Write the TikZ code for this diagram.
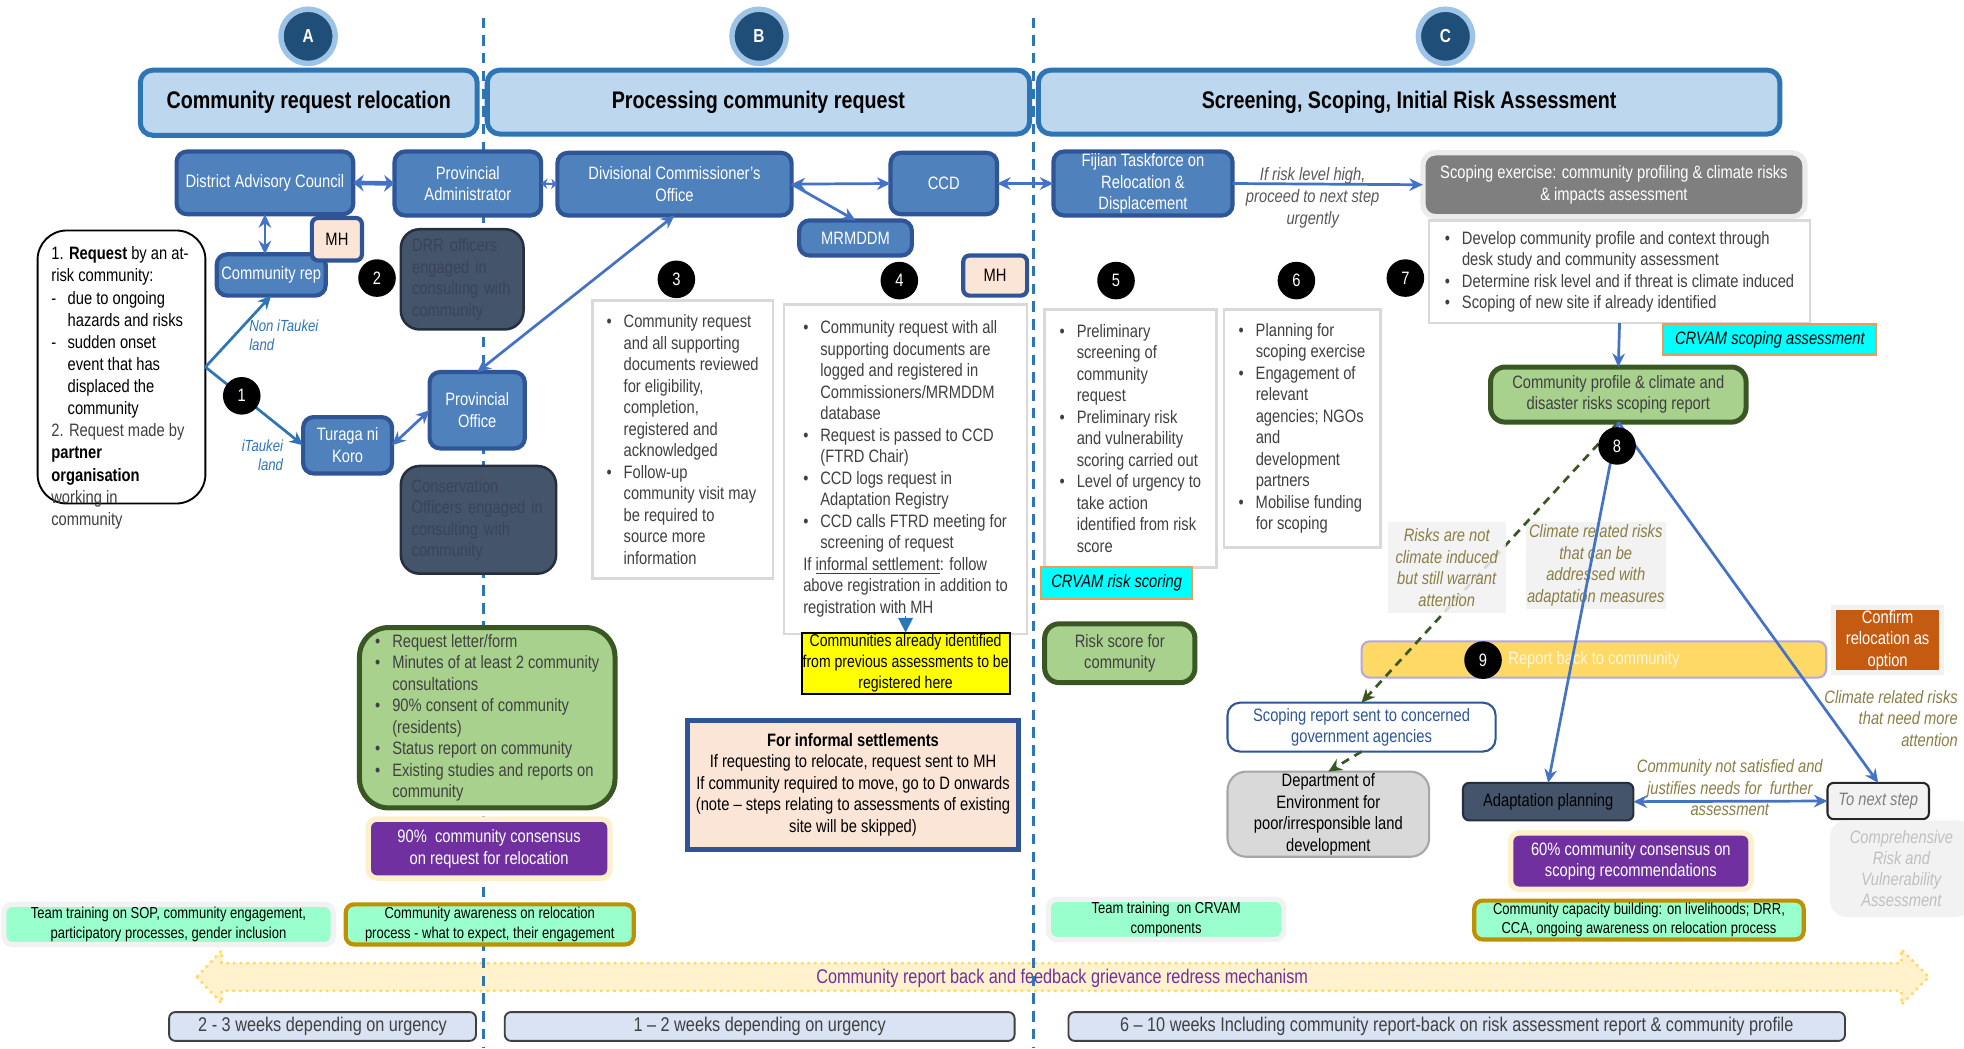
\documentclass[tikz,border=0pt]{standalone}
\usepackage{fontspec}
\setmainfont{Liberation Sans}[FakeStretch=0.82]
\usetikzlibrary{arrows.meta}
\definecolor{hdrfill}{HTML}{BDD7EE}
\definecolor{hdrdraw}{HTML}{2E75B6}
\definecolor{bluefill}{HTML}{4F81BD}
\definecolor{bluedraw}{HTML}{2F5597}
\definecolor{mhfill}{HTML}{FBE5D6}
\definecolor{darkfill}{HTML}{44546A}
\definecolor{darkdraw}{HTML}{262F3D}
\definecolor{darktext}{HTML}{394457}
\definecolor{letfill}{HTML}{1F4E79}
\definecolor{letring}{HTML}{9DC3E6}
\definecolor{boxgray}{HTML}{D9D9D9}
\definecolor{txtgray}{HTML}{404040}
\definecolor{grnfill}{HTML}{A9D18E}
\definecolor{grndraw}{HTML}{385723}
\definecolor{purple1}{HTML}{7030A0}
\definecolor{peach2}{HTML}{FFF0CC}
\definecolor{mint1}{HTML}{99FFCC}
\definecolor{gold1}{HTML}{BF9000}
\definecolor{lightgray1}{HTML}{F2F2F2}
\definecolor{cyan1}{HTML}{00FFFF}
\definecolor{orange1}{HTML}{F19A55}
\definecolor{olive1}{HTML}{8A7E45}
\definecolor{durfill}{HTML}{DAE3F3}
\definecolor{durdraw}{HTML}{404040}
\definecolor{connblue}{HTML}{4472C4}
\definecolor{repfill}{HTML}{FFD966}
\definecolor{repdraw}{HTML}{B4A7E5}
\definecolor{reptext}{HTML}{FFF7E0}
\definecolor{conffill}{HTML}{C55A11}
\definecolor{deptdraw}{HTML}{A6A6A6}
\definecolor{comptext}{HTML}{BFBFBF}
\definecolor{bigfill}{HTML}{FFF2CC}
\definecolor{bigdraw}{HTML}{FFD966}
\definecolor{scopfill}{HTML}{7F7F7F}
\definecolor{scopdraw}{HTML}{EBEBEB}
\definecolor{yelfill}{HTML}{FFFF00}
\definecolor{gray59}{HTML}{595959}
\definecolor{gray7f}{HTML}{7F7F7F}
\newcommand\myfs[2]{\fontsize{#1}{#2}\selectfont}
\newcommand\bul{\makebox[0.95em][l]{•}}
\newcommand\hind{\hspace*{0.95em}}
\newcommand\dsh{\makebox[7.8pt][l]{-}}
\newcommand\dind{\hspace*{7.8pt}}
\newcommand\bx[7]{%
  \pgfmathsetmacro\bxw{((#4)-(#2))*0.6}%
  \pgfmathsetmacro\bxh{((#5)-(#3))*0.6}%
  \node[#6, minimum width=\bxw pt, minimum height=\bxh pt] (#1) at ({((#2)+(#4))/2},{((#3)+(#5))/2}) {#7};%
}
\tikzset{
  every node/.style={inner sep=0pt, outer sep=0pt, font=\myfs{8.6}{10.3}, align=center},
  hdr/.style={draw=hdrdraw, line width=2.4pt, fill=hdrfill, rounded corners=6pt, font=\bfseries\myfs{11.5}{14}},
  blu/.style={draw=bluedraw, line width=2pt, fill=bluefill, rounded corners=5pt, text=white},
  mh/.style={draw=bluedraw, line width=2pt, fill=mhfill, rounded corners=3pt},
  dark/.style={draw=darkdraw, line width=1.2pt, fill=darkfill, rounded corners=9pt, text=darktext, align=left},
  num/.style={circle, fill=black, text=white, minimum size=18pt},
  letter/.style={circle, fill=letfill, draw=letring, line width=2.6pt, minimum size=26pt, text=white, font=\bfseries\myfs{9}{11}},
  blist/.style={draw=boxgray, line width=1.2pt, fill=white, text=txtgray, align=left},
  reqbox/.style={draw=black, line width=0.9pt, fill=white, rounded corners=14pt},
  grn/.style={draw=grndraw, line width=2.4pt, fill=grnfill, rounded corners=7pt, text=txtgray},
  purp/.style={draw=peach2, line width=2.6pt, fill=purple1, text=white, rounded corners=4pt},
  mintbox/.style={fill=mint1, font=\myfs{7.6}{9.2}},
  mintg/.style={mintbox, draw=gold1, line width=2pt, rounded corners=4pt},
  mintl/.style={mintbox, draw=lightgray1, line width=2.5pt, rounded corners=4pt},
  cyanbox/.style={fill=cyan1, draw=orange1, line width=1pt, font=\itshape\myfs{8.6}{10.3}},
  oliv/.style={text=olive1, font=\itshape\myfs{8.6}{10.3}},
  labbox/.style={oliv, fill=lightgray1, fill opacity=0.85, text opacity=1},
  dur/.style={fill=durfill, draw=durdraw, line width=0.9pt, rounded corners=3pt, text=txtgray, font=\myfs{9.5}{11}},
  yelbox/.style={fill=yelfill, draw=black, line width=1pt, font=\myfs{8.2}{9.9}},
  infbox/.style={fill=mhfill, draw=bluedraw, line width=2.4pt},
  scopbox/.style={fill=scopfill, draw=scopdraw, line width=2.5pt, rounded corners=6pt, text=white},
  repbar/.style={fill=repfill, draw=repdraw, line width=1pt, rounded corners=4pt, text=reptext},
  confbox/.style={fill=conffill, draw=lightgray1, line width=2.5pt, text=white},
  srsbox/.style={fill=white, draw=bluedraw, line width=1pt, rounded corners=6pt, text=bluedraw},
  deptbox/.style={fill=boxgray, draw=deptdraw, line width=1pt, rounded corners=9pt},
  apbox/.style={fill=darkfill, draw=darkdraw, line width=1pt, rounded corners=3pt},
  tnsbox/.style={fill=lightgray1, draw=black!85, line width=1pt, rounded corners=3pt, text=gray7f, font=\itshape\myfs{8.6}{10.3}},
  compbox/.style={fill=lightgray1, rounded corners=8pt, text=comptext, font=\itshape\myfs{8.6}{10.1}},
  divider/.style={draw=hdrdraw, line width=1.3pt, dash pattern=on 5pt off 3.5pt},
  conn/.style={draw=connblue, line width=1.3pt},
  gdash/.style={draw=grndraw, line width=1.3pt, dash pattern=on 4pt off 3pt},
  arr/.style={-{Stealth[length=6.5pt,width=6pt]}},
  arrb/.style={{Stealth[length=6.5pt,width=6pt]}-{Stealth[length=6.5pt,width=6pt]}},
  bigarrow/.style={fill=bigfill, draw=bigdraw, line width=1.2pt, dotted}
}
\begin{document}
\begin{tikzpicture}[x=0.6pt,y=-0.6pt]
\useasboundingbox (0,0) rectangle (1568,837);
\fill[white] (0,0) rectangle (1568,837);
% feedback arrow
\draw[bigarrow] (157,780) -- (177,759) -- (177,769) -- (1518,769) -- (1518,758) -- (1540,780) -- (1518,802) -- (1518,791) -- (177,791) -- (177,801) -- cycle;
\node[text=purple1, font=\myfs{9.5}{11}] (fb) at (848,781) {Community report back and feedback grievance redress mechanism};
% dividers
\draw[divider] (386,14) -- (386,837);
\draw[divider] (825,14) -- (825,837);
% stage letters
\node[letter] (cA) at (246,29) {A};
\node[letter] (cB) at (606,29) {B};
\node[letter] (cC) at (1154,29) {C};
% headers
\bx{hA}{112}{56}{381}{108}{hdr}{Community request relocation}
\bx{hB}{389}{56}{822}{107}{hdr}{Processing community request}
\bx{hC}{829}{56}{1421}{107}{hdr}{Screening, Scoping, Initial Risk Assessment}
% request
\bx{req}{30}{184}{164}{402}{reqbox}{}
\node[anchor=north west, align=left, font=\myfs{8.6}{10.6}] (reqtx) at (41,197) {1. \textbf{Request} by an at-\\risk community:\\\dsh due to ongoing\\\dind hazards and risks\\\dsh sudden onset\\\dind event that has\\\dind displaced the\\\dind community\\{\color{txtgray}2. Request made by}\\\textbf{partner}\\\textbf{organisation}\\{\color{txtgray}working in}\\{\color{txtgray}community}};
% blue nodes
\bx{dac}{141}{121}{282}{171}{blu}{District Advisory Council}
\bx{pa}{315}{121}{432}{172}{blu}{Provincial\\Administrator}
\bx{dco}{445}{122}{632}{172}{blu}{Divisional Commissioner’s\\Office}
\bx{ccd}{711}{122}{796}{171}{blu}{CCD}
\bx{mrm}{638}{176}{728}{204}{blu}{MRMDDM}
\bx{ft}{841}{121}{984}{172}{blu}{Fijian Taskforce on\\Relocation \&\\Displacement}
\bx{crep}{173}{203}{260}{236}{blu}{Community rep}
\bx{tnk}{242}{333}{313}{378}{blu}{Turaga ni\\Koro}
\bx{po}{343}{297}{419}{358}{blu}{Provincial\\Office}
\bx{mhA}{249}{174}{289}{208}{mh}{MH}
\bx{mhB}{769}{204}{820}{236}{mh}{MH}
% dark boxes
\bx{drr}{320}{183}{418}{263}{dark, text width=48pt}{DRR officers\\engaged in\\consulting with\\community}
\bx{cons}{320}{372}{444}{458}{dark, text width=64pt}{Conservation\\Officers engaged in\\consulting with\\community}
% bullet boxes
\bx{b3}{473}{240}{617}{462}{blist}{\bul Community request\\\hind and all supporting\\\hind documents reviewed\\\hind for eligibility,\\\hind completion,\\\hind registered and\\\hind acknowledged\\\bul Follow-up\\\hind community visit may\\\hind be required to\\\hind source more\\\hind information}
\bx{b4}{626}{243}{820}{506}{blist}{\bul Community request with all\\\hind supporting documents are\\\hind logged and registered in\\\hind Commissioners/MRMDDM\\\hind database\\\bul Request is passed to CCD\\\hind (FTRD Chair)\\\bul CCD logs request in\\\hind Adaptation Registry\\\bul CCD calls FTRD meeting for\\\hind screening of request\\If \underline{informal settlement}: follow\\above registration in addition to\\registration with MH}
\bx{b5}{834}{247}{971}{453}{blist}{\bul Preliminary\\\hind screening of\\\hind community\\\hind request\\\bul Preliminary risk\\\hind and vulnerability\\\hind scoring carried out\\\bul Level of urgency to\\\hind take action\\\hind identified from risk\\\hind score}
\bx{b6}{977}{247}{1102}{437}{blist}{\bul Planning for\\\hind scoping exercise\\\bul Engagement of\\\hind relevant\\\hind agencies; NGOs\\\hind and\\\hind development\\\hind partners\\\bul Mobilise funding\\\hind for scoping}
\bx{scop}{1136}{122}{1441}{173}{scopbox}{Scoping exercise: community profiling \& climate risks\\\& impacts assessment}
\bx{b7}{1141}{176}{1445}{258}{blist}{\bul Develop community profile and context through\\\hind desk study and community assessment\\\bul Determine risk level and if threat is climate induced\\\bul Scoping of new site if already identified}
\bx{csa}{1328}{259}{1498}{283}{cyanbox}{CRVAM scoping assessment}
\bx{prof}{1190}{293}{1394}{337}{grn}{Community profile \& climate and\\disaster risks scoping report}
\bx{crs}{831}{453}{952}{478}{cyanbox}{CRVAM risk scoring}
\bx{rs}{834}{498}{954}{545}{grn}{Risk score for\\community}
% lower A/B
\bx{grA}{287}{501}{491}{645}{grn, rounded corners=14pt, align=left}{\bul Request letter/form\\\bul Minutes of at least 2 community\\\hind consultations\\\bul 90\% consent of community\\\hind (residents)\\\bul Status report on community\\\bul Existing studies and reports on\\\hind community}
\bx{p90}{294}{654}{487}{701}{purp}{90\%\ \ community consensus\\on request for relocation}
\bx{yel}{640}{505}{806}{554}{yelbox}{Communities already identified\\from previous assessments to be\\registered here}
\bx{inf}{549}{575}{813}{678}{infbox}{\textbf{For informal settlements}\\If requesting to relocate, request sent to MH\\If community required to move, go to D onwards\\(note – steps relating to assessments of existing\\site will be skipped)}
\bx{trSOP}{3}{722}{266}{754}{mintl}{Team training on SOP, community engagement,\\participatory processes, gender inclusion}
\bx{aware}{276}{722}{506}{754}{mintg}{Community awareness on relocation\\process - what to expect, their engagement}
\bx{trCR}{837}{718}{1025}{750}{mintl}{Team training\ \ on CRVAM\\components}
% C lower
\bx{rep}{1087}{512}{1458}{541}{repbar}{Report back to community}
\bx{conf}{1464}{485}{1550}{537}{confbox}{Confirm\\relocation as\\option}
\bx{lab2}{1218}{417}{1330}{486}{oliv, fill=lightgray1}{Climate related risks\\that can be\\addressed with\\adaptation measures}
\bx{srs}{980}{561}{1194}{600}{srsbox}{Scoping report sent to concerned\\government agencies}
\bx{dept}{980}{616}{1141}{684}{deptbox}{Department of\\Environment for\\poor/irresponsible land\\development}
\bx{ap}{1168}{625}{1304}{655}{apbox}{Adaptation planning}
\bx{tns}{1459}{625}{1540}{654}{tnsbox}{To next step}
\bx{comp}{1461}{655}{1575}{732}{compbox}{Comprehensive\\Risk and\\Vulnerability\\Assessment}
\bx{p60}{1206}{665}{1398}{710}{purp}{60\% community consensus on\\scoping recommendations}
\bx{cap}{1177}{719}{1440}{750}{mintg}{Community capacity building: on livelihoods; DRR,\\CCA, ongoing awareness on relocation process}
% durations
\bx{d1}{135}{808}{380}{831}{dur}{2 - 3 weeks depending on urgency}
\bx{d2}{403}{808}{810}{831}{dur}{1 – 2 weeks depending on urgency}
\bx{d3}{853}{808}{1473}{831}{dur}{6 – 10 weeks Including community report-back on risk assessment report \& community profile}
% connectors
\draw[conn, draw=hdrdraw, arr] (req.east) -- (crep.south);
\draw[conn, draw=hdrdraw, arr] (req.east) -- (tnk.west);
\draw[conn, arrb] (dac.south) -- (dac.south |- crep.north);
\draw[conn, line width=2.2pt, {Stealth[length=5pt,width=8pt]}-{Stealth[length=5pt,width=8pt]}] (dac.east) -- (pa.west);
\draw[conn, line width=1pt, {Stealth[length=3pt,width=5pt]}-{Stealth[length=3pt,width=5pt]}] (pa.east) -- (dco.west);
\draw[conn, arrb] (dco.south) -- (po.north);
\draw[conn, arrb] (tnk.east) -- (po.west);
\draw[conn, arrb] (dco.east) -- (ccd.west);
\draw[conn, arr] (dco.east) -- (mrm.north);
\draw[conn, arrb] (ccd.east) -- (ft.west);
\draw[conn, arr] (ft.east) -- (scop.west);
\draw[conn, arr] (b7.south) -- (prof.north);
\coordinate (b4tip) at (723,492);
\draw[draw=hdrdraw, line width=0.8pt, -{Triangle[length=7pt,width=7pt]}] (b4tip) -- (yel.north);
\draw[gdash, arr] (prof.south) -- (srs.north);
\draw[conn, arr] (prof.south) -- (ap.north);
\draw[conn, arr] (prof.south) -- (tns.north);
\draw[conn, arrb] (ap.east) -- (tns.west);
\draw[gdash, arr] (srs.south) -- (dept.north);
% labels
\bx{lab1}{1108}{417}{1202}{489}{labbox}{Risks are not\\climate induced\\but still warrant\\attention}
\node[oliv, align=right, anchor=north east] (lab3) at (1563,551) {Climate related risks\\that need more\\attention};
\node[oliv] (lab4) at (1381,629) {Community not satisfied and\\justifies needs for\ \ further\\assessment};
\node[text=gray59, font=\itshape\myfs{8.6}{10.5}] (lab5) at (1048,158) {If risk level high,\\proceed to next step\\urgently};
\node[anchor=north west, align=left, text=hdrdraw, font=\itshape\myfs{7.7}{9.2}] (lab6) at (199,255) {Non iTaukei\\land};
\node[anchor=north east, align=right, text=hdrdraw, font=\itshape\myfs{7.7}{9.2}] (lab7) at (226,351) {iTaukei\\land};
% step numbers
\node[num] (n1) at (193,316) {1};
\node[num] (n2) at (301,222) {2};
\node[num] (n3) at (540,223) {3};
\node[num] (n4) at (718,224) {4};
\node[num] (n5) at (891,224) {5};
\node[num] (n6) at (1035,224) {6};
\node[num] (n7) at (1122,222) {7};
\node[num] (n8) at (1291,356) {8};
\node[num] (n9) at (1184,527) {9};
\end{tikzpicture}
\end{document}
